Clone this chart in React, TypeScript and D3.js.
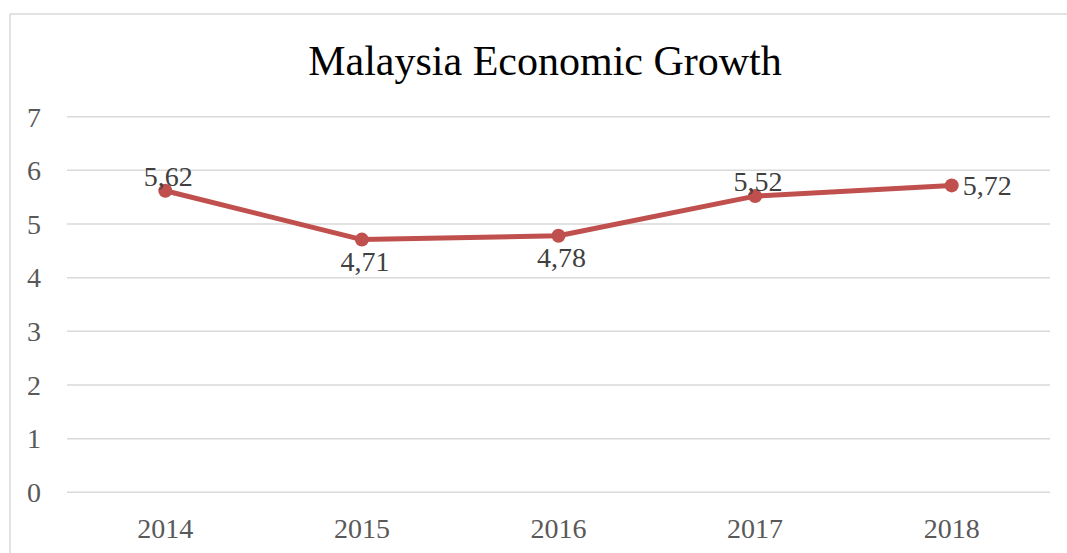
import React from "react";
import * as d3 from "d3";

const years = ["2014", "2015", "2016", "2017", "2018"];
const growth = [5.62, 4.71, 4.78, 5.52, 5.72];
const labelPos = ["above", "below", "below", "above", "right"];
const yTicks = [0, 1, 2, 3, 4, 5, 6, 7];
const title = "Malaysia Economic Growth";

export default function App() {
  const W = 1067, H = 553;
  const x = d3.scaleBand<string>().domain(years).range([67, 1050]);
  const y = d3.scaleLinear().domain([0, 7]).range([492.3, 116.7]);
  const cx = (d: string) => (x(d) as number) + x.bandwidth() / 2;
  const line = d3.line<number>().x((_, i) => cx(years[i])).y((v) => y(v));
  const font = "'Liberation Serif', 'Times New Roman', serif";
  return (
    <svg width={W} height={H} style={{ position: "absolute", left: 0, top: 0, background: "#fff" }} fontFamily={font}>
      <rect x={10} y={14} width={1070} height={560} fill="#fff" stroke="#d9d9d9" strokeWidth={1.5} />
      <text x={545} y={75} textAnchor="middle" fontSize={42} fill="#000">{title}</text>
      {yTicks.map((t) => (
        <g key={t}>
          <line x1={67} x2={1050} y1={y(t)} y2={y(t)} stroke="#d9d9d9" strokeWidth={1.5} />
          <text x={41} y={y(t)} dy="0.35em" textAnchor="end" fontSize={28} fill="#595959">{t}</text>
        </g>
      ))}
      {years.map((yr) => (
        <text key={yr} x={cx(yr)} y={538} textAnchor="middle" fontSize={28} fill="#595959">{yr}</text>
      ))}
      <path d={line(growth) as string} fill="none" stroke="#c0504d" strokeWidth={5} strokeLinejoin="round" />
      {growth.map((v, i) => (
        <circle key={i} cx={cx(years[i])} cy={y(v)} r={7} fill="#c0504d" />
      ))}
      {growth.map((v, i) => {
        const px = cx(years[i]);
        const py = y(v);
        const txt = v.toFixed(2).replace(".", ",");
        if (labelPos[i] === "above")
          return <text key={i} x={px + 3} y={py - 5} textAnchor="middle" fontSize={28} fill="#404040">{txt}</text>;
        if (labelPos[i] === "below")
          return <text key={i} x={px + 3} y={py + 31} textAnchor="middle" fontSize={28} fill="#404040">{txt}</text>;
        return <text key={i} x={px + 11} y={py} dy="0.35em" textAnchor="start" fontSize={28} fill="#404040">{txt}</text>;
      })}
    </svg>
  );
}
